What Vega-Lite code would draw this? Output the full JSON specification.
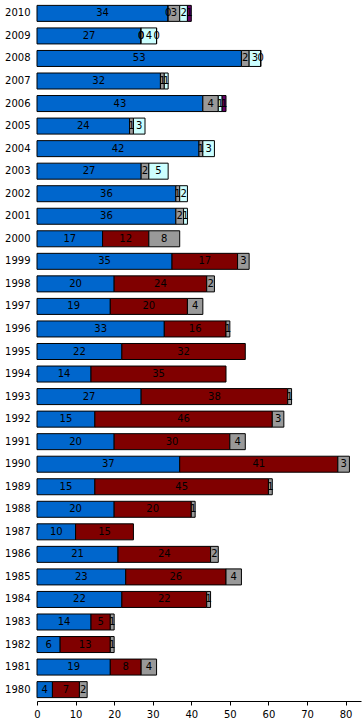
{
  "$schema": "https://vega.github.io/schema/vega-lite/v6.json",
  "width": 324,
  "height": 699,
  "autosize": {"type": "none"},
  "padding": {"left": 37, "top": 2, "right": 1, "bottom": 25},
  "background": "white",
  "config": {"view": {"stroke": null}, "font": "DejaVu Sans"},
  "data": {"values": [
    {"year":"2010","s":"a","v":34},{"year":"2010","s":"b","v":0},{"year":"2010","s":"c","v":3},{"year":"2010","s":"d","v":2},{"year":"2010","s":"e","v":1},
    {"year":"2009","s":"a","v":27},{"year":"2009","s":"b","v":0},{"year":"2009","s":"c","v":0},{"year":"2009","s":"d","v":4},{"year":"2009","s":"e","v":0},
    {"year":"2008","s":"a","v":53},{"year":"2008","s":"c","v":2},{"year":"2008","s":"d","v":3},{"year":"2008","s":"e","v":0},
    {"year":"2007","s":"a","v":32},{"year":"2007","s":"c","v":1},{"year":"2007","s":"d","v":1},
    {"year":"2006","s":"a","v":43},{"year":"2006","s":"c","v":4},{"year":"2006","s":"d","v":1},{"year":"2006","s":"e","v":1},
    {"year":"2005","s":"a","v":24},{"year":"2005","s":"c","v":1},{"year":"2005","s":"d","v":3},
    {"year":"2004","s":"a","v":42},{"year":"2004","s":"c","v":1},{"year":"2004","s":"d","v":3},
    {"year":"2003","s":"a","v":27},{"year":"2003","s":"c","v":2},{"year":"2003","s":"d","v":5},
    {"year":"2002","s":"a","v":36},{"year":"2002","s":"c","v":1},{"year":"2002","s":"d","v":2},
    {"year":"2001","s":"a","v":36},{"year":"2001","s":"c","v":2},{"year":"2001","s":"d","v":1},
    {"year":"2000","s":"a","v":17},{"year":"2000","s":"b","v":12},{"year":"2000","s":"c","v":8},
    {"year":"1999","s":"a","v":35},{"year":"1999","s":"b","v":17},{"year":"1999","s":"c","v":3},
    {"year":"1998","s":"a","v":20},{"year":"1998","s":"b","v":24},{"year":"1998","s":"c","v":2},
    {"year":"1997","s":"a","v":19},{"year":"1997","s":"b","v":20},{"year":"1997","s":"c","v":4},
    {"year":"1996","s":"a","v":33},{"year":"1996","s":"b","v":16},{"year":"1996","s":"c","v":1},
    {"year":"1995","s":"a","v":22},{"year":"1995","s":"b","v":32},
    {"year":"1994","s":"a","v":14},{"year":"1994","s":"b","v":35},
    {"year":"1993","s":"a","v":27},{"year":"1993","s":"b","v":38},{"year":"1993","s":"c","v":1},
    {"year":"1992","s":"a","v":15},{"year":"1992","s":"b","v":46},{"year":"1992","s":"c","v":3},
    {"year":"1991","s":"a","v":20},{"year":"1991","s":"b","v":30},{"year":"1991","s":"c","v":4},
    {"year":"1990","s":"a","v":37},{"year":"1990","s":"b","v":41},{"year":"1990","s":"c","v":3},
    {"year":"1989","s":"a","v":15},{"year":"1989","s":"b","v":45},{"year":"1989","s":"c","v":1},
    {"year":"1988","s":"a","v":20},{"year":"1988","s":"b","v":20},{"year":"1988","s":"c","v":1},
    {"year":"1987","s":"a","v":10},{"year":"1987","s":"b","v":15},
    {"year":"1986","s":"a","v":21},{"year":"1986","s":"b","v":24},{"year":"1986","s":"c","v":2},
    {"year":"1985","s":"a","v":23},{"year":"1985","s":"b","v":26},{"year":"1985","s":"c","v":4},
    {"year":"1984","s":"a","v":22},{"year":"1984","s":"b","v":22},{"year":"1984","s":"c","v":1},
    {"year":"1983","s":"a","v":14},{"year":"1983","s":"b","v":5},{"year":"1983","s":"c","v":1},
    {"year":"1982","s":"a","v":6},{"year":"1982","s":"b","v":13},{"year":"1982","s":"c","v":1},
    {"year":"1981","s":"a","v":19},{"year":"1981","s":"b","v":8},{"year":"1981","s":"c","v":4},
    {"year":"1980","s":"a","v":4},{"year":"1980","s":"b","v":7},{"year":"1980","s":"c","v":2}
  ]},
  "transform": [
    {"stack": "v", "groupby": ["year"], "sort": [{"field": "s", "order": "ascending"}], "as": ["v0", "v1"]}
  ],
  "encoding": {
    "y": {"field": "year", "type": "ordinal", "sort": "descending",
      "scale": {"paddingInner": 0.29, "paddingOuter": 0.15},
      "axis": {"title": null, "ticks": false, "domain": false, "labelPadding": 7, "labelFontSize": 10, "labelColor": "black"}}
  },
  "layer": [
    {"mark": {"type": "bar", "stroke": "black", "strokeWidth": 1},
     "encoding": {
        "x": {"field": "v0", "type": "quantitative",
          "scale": {"domain": [0, 84], "nice": false},
          "axis": {"title": null, "grid": false, "values": [0,10,20,30,40,50,60,70,80], "domainColor": "black", "tickColor": "black", "tickSize": 4, "labelPadding": 4, "labelFontSize": 10, "labelColor": "black", "labelFlush": false}},
        "x2": {"field": "v1"},
        "color": {"field": "s", "type": "nominal", "legend": null,
        "scale": {"domain": ["a","b","c","d","e"], "range": ["#0066CC","#800000","#999999","#CCFFFF","#660066"]}}}},
    {"transform": [{"fold": ["v0", "v1"], "as": ["edge", "pos"]}],
     "mark": {"type": "text", "fontSize": 10, "color": "black", "baseline": "middle", "align": "center"},
     "encoding": {
        "x": {"field": "pos", "aggregate": "mean", "type": "quantitative"},
        "detail": {"field": "s"},
        "text": {"field": "v", "type": "quantitative"}}}
  ]
}
